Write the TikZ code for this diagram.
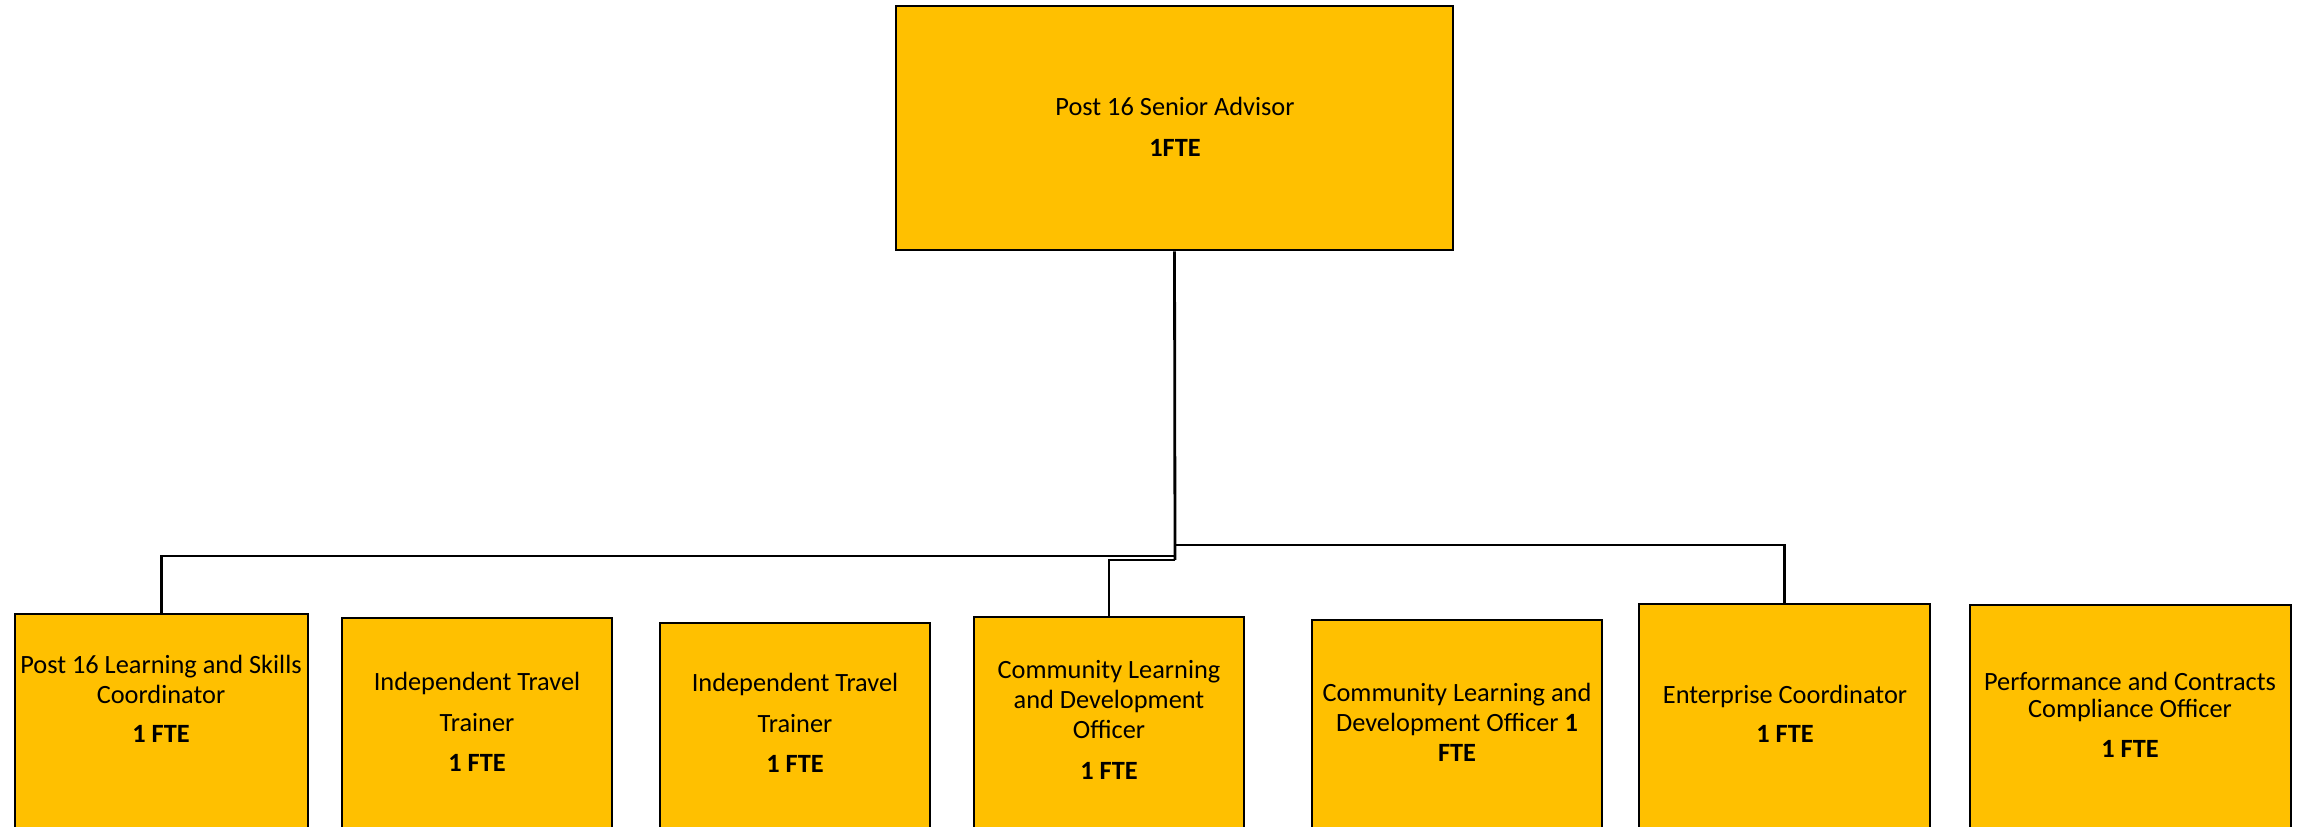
\documentclass[tikz,border=0pt]{standalone}
\usepackage{fontspec}
\setmainfont{Carlito}
\usetikzlibrary{fit}
\definecolor{gold}{HTML}{FFC000}
\tikzset{
  box/.style={draw=black, fill=gold, line width=1.6pt, inner sep=0pt},
  conn/.style={draw=black, line width=1.6pt},
  lbl/.style={align=center, font=\fontsize{15}{17}\selectfont, inner sep=0pt}
}
\begin{document}
\begin{tikzpicture}[x=0.02cm, y=-0.02cm]
\useasboundingbox (0,0) rectangle (2303,827);
\clip (0,0) rectangle (2303,827);
% boxes
\node[box, fit={(896,6) (1453,250)}] (top) {};
\node[box, fit={(15,614) (308,840)}] (b1) {};
\node[box, fit={(342,618) (612,840)}] (b2) {};
\node[box, fit={(660,623) (930,840)}] (b3) {};
\node[box, fit={(974,617) (1244,840)}] (b4) {};
\node[box, fit={(1312,620) (1602,840)}] (b5) {};
\node[box, fit={(1639,604) (1930,840)}] (b6) {};
\node[box, fit={(1970,605) (2291,840)}] (b7) {};
% labels
\node[lbl] (ttop) at (1175,127) {Post 16 Senior Advisor\\[6pt]\textbf{1FTE}};
\node[lbl] (t1) at (161,699) {Post 16 Learning and Skills\\Coordinator\\[5pt]\textbf{1 FTE}};
\node[lbl] (t2) at (477,722) {Independent Travel\\[6pt]Trainer\\[6pt]\textbf{1 FTE}};
\node[lbl] (t3) at (795,723) {Independent Travel\\[6pt]Trainer\\[6pt]\textbf{1 FTE}};
\node[lbl] (t4) at (1109,720) {Community Learning\\and Development\\Officer\\[6pt]\textbf{1 FTE}};
\node[lbl] (t5) at (1457,722) {Community Learning and\\Development Officer \textbf{1}\\\textbf{FTE}};
\node[lbl] (t6) at (1785,714) {Enterprise Coordinator\\[5pt]\textbf{1 FTE}};
\node[lbl] (t7) at (2130,715) {Performance and Contracts\\[-2pt]Compliance Officer\\[6pt]\textbf{1 FTE}};
% connectors
\coordinate (jr) at (1175,545);
\coordinate (jl) at (1175,556);
\coordinate (js) at (1175,560);
\draw[conn] (top.south) -- (js);
\draw[conn] (jl) -| (b1.north);
\draw[conn] (jr) -| (b6.north);
\draw[conn] (js) -| (b4.north);
\end{tikzpicture}
\end{document}
